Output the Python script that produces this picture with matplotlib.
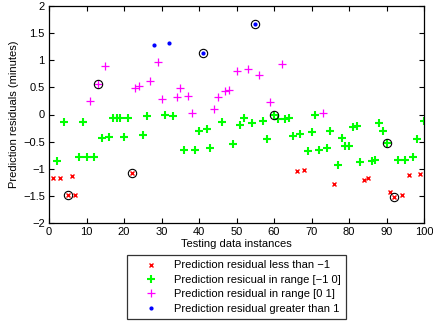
import numpy as np
import matplotlib
matplotlib.use("Agg")
import matplotlib.pyplot as plt

plt.rcParams['font.family'] = ['Liberation Sans', 'DejaVu Sans']

# residual for each testing instance 1..100 (minutes)
instances = np.arange(1, 101)
residuals = np.array([
    -1.17, -0.85, -1.17, -0.13, -1.49, -1.14, -1.48, -0.78, -0.14, -0.78,
    0.24, -0.78, 0.56, -0.43, 0.90, -0.42, -0.07, -0.07, -0.07, -0.41,
    -0.07, -1.08, 0.48, 0.52, -0.38, -0.02, 0.62, 1.28, 0.97, 0.28,
    -0.01, 1.31, -0.02, 0.33, 0.48, -0.66, 0.35, 0.02, -0.65, -0.30,
    1.14, -0.26, -0.62, 0.10, 0.33, -0.14, 0.44, 0.46, -0.54, 0.81,
    -0.19, -0.07, 0.84, -0.16, 1.67, 0.72, -0.12, -0.46, 0.23, -0.01,
    -0.09, 0.94, -0.08, -0.07, -0.39, -1.04, -0.36, -1.03, -0.67, -0.33,
    -0.01, -0.65, 0.02, -0.62, -0.30, -1.29, -0.93, -0.43, -0.58, -0.58,
    -0.23, -0.21, -0.88, -1.20, -1.17, -0.85, -0.83, -0.15, -0.30, -0.53,
    -1.43, -1.52, -0.84, -1.49, -0.83, -1.12, -0.78, -0.46, -1.10, -0.12])

# instances highlighted with a black circle
circled = [5, 13, 22, 41, 55, 60, 90, 92]

labels = ['Prediction residual less than \u22121',
          'Prediction resicual in range [\u22121 0]',
          'Prediction residual in range [0 1]',
          'Prediction residual greater than 1']

fig = plt.figure(figsize=(4.33, 3.26), dpi=100)
ax = fig.add_axes([49/433, 1-223/326, 375/433, 217/326])

m1 = residuals < -1
m2 = (residuals >= -1) & (residuals < 0)
m3 = (residuals >= 0) & (residuals <= 1)
m4 = residuals > 1

ax.plot(instances[m1], residuals[m1], 'x', color='#ff0000', ms=2.8, mew=1.0, label=labels[0])
ax.plot(instances[m2], residuals[m2], '+', color='#00ff00', ms=5.6, mew=1.5, label=labels[1])
ax.plot(instances[m3], residuals[m3], '+', color='#ff00ff', ms=5.8, mew=0.9, label=labels[2])
ax.plot(instances[m4], residuals[m4], '.', color='#0000ff', ms=4, label=labels[3])

ci = np.array(circled)
ax.plot(ci, residuals[ci - 1], 'o', mfc='none', mec='black', ms=6, mew=0.8)

ax.set_xlim(0, 100)
ax.set_ylim(-2, 2)
ax.set_xticks(np.arange(0, 101, 10))
ax.set_yticks(np.arange(-2, 2.01, 0.5))
ax.set_yticklabels(['\u22122', '\u22121.5', '\u22121', '\u22120.5', '0', '0.5', '1', '1.5', '2'])
ax.tick_params(direction='in', top=True, right=True, length=3.5, width=0.8, labelsize=8, pad=3)
for s in ax.spines.values():
    s.set_linewidth(0.9)

ax.set_xlabel('Testing data instances', fontsize=8, labelpad=1)
ax.set_ylabel('Prediction residuals (minutes)', fontsize=8, labelpad=3)

leg = ax.legend(loc='upper center', bbox_to_anchor=(0.5, -0.147), fontsize=8,
                frameon=True, fancybox=False, edgecolor='black', borderpad=0.5,
                handlelength=3.3, handletextpad=0.45, labelspacing=0.4, borderaxespad=0)
leg.get_frame().set_linewidth(0.9)

fig.savefig('out.png', dpi=100)
